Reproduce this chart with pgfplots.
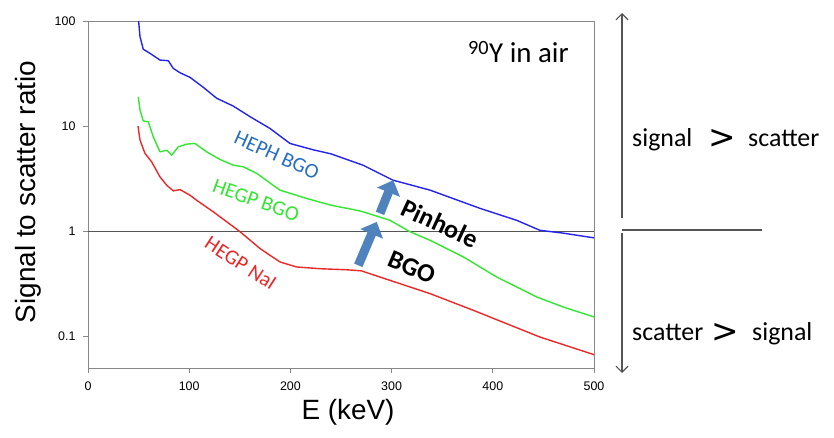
\documentclass[border=0pt]{standalone}
\usepackage{fontspec}
\setmainfont{Liberation Sans}
\newfontfamily\calib{Carlito}
\newfontfamily\dejavu{DejaVu Sans}
\usepackage{pgfplots}
\pgfplotsset{compat=1.18}
\usetikzlibrary{arrows.meta}
\definecolor{blueline}{RGB}{35,35,235}
\definecolor{greenline}{RGB}{50,230,50}
\definecolor{redline}{RGB}{235,40,40}
\definecolor{hephtext}{RGB}{40,110,190}
\definecolor{arrowfill}{RGB}{80,130,190}
\definecolor{arrowedge}{RGB}{60,100,150}
\definecolor{framegray}{RGB}{136,136,136}
\definecolor{onegray}{RGB}{85,85,85}
\begin{document}
\begin{tikzpicture}
\useasboundingbox (-88bp,-70bp) rectangle (746bp,368bp);
\begin{axis}[
  at={(0bp,0bp)}, anchor=south west,
  width=506bp, height=347bp, scale only axis,
  xmin=0, xmax=500, ymode=log, ymin=0.05, ymax=100,
  xtick={0,100,200,300,400,500},
  ytick={0.1,1,10,100}, yticklabels={0.1,1,10,100},
  yminorticks=false,
  axis line style={draw=framegray, line width=0.9pt},
  tick style={draw=framegray, line width=0.8pt},
  tick align=outside, major tick length=5bp,
  tick pos=left,
  ticklabel style={font=\fontsize{12.5}{15}\selectfont},
  x tick label style={yshift=-5bp},
  y tick label style={xshift=-4bp},
  /pgf/number format/assume math mode=true,
]
\addplot[draw=onegray, line width=1pt] coordinates {(0,1) (500,1)};
\addplot[draw=blueline, line width=1.4pt, line join=round] coordinates {
(50,100) (51.4,70.8) (54.6,53.9) (61.3,49.2) (71.1,42.5) (79.3,41.9) (84.3,35.4) (90.9,32.2) (100.8,29.1) (113.9,23.4) (127.2,18.4) (143.6,15.5) (160.1,12.3) (179.8,9.5) (199.6,6.84) (222.6,5.95) (240,5.45) (271.7,4.25) (301.4,3.06) (338,2.46) (387.4,1.65) (423.6,1.27) (446.6,1.02) (469.4,0.96) (500,0.865)};
\addplot[draw=greenline, line width=1.4pt, line join=round] coordinates {
(49.7,19.0) (51.4,14.2) (54.6,11.2) (59.6,11.0) (64.5,7.9) (71.1,5.69) (77.8,5.9) (82.7,5.29) (89.2,6.35) (97.5,6.74) (105.7,6.84) (117.3,5.69) (130.4,4.82) (143.6,4.25) (153.5,4.1) (166.7,3.55) (189.7,2.46) (216,2.05) (240,1.77) (270,1.55) (298.4,1.27) (318,0.99) (338,0.82) (370.9,0.57) (403.8,0.367) (443.4,0.237) (469.7,0.19) (500,0.153)};
\addplot[draw=redline, line width=1.4pt, line join=round] coordinates {
(49.4,10) (51.4,7.36) (56.3,5.5) (62.9,4.57) (71.1,3.29) (77.8,2.74) (84.3,2.42) (90.9,2.49) (100.8,2.2) (107.4,1.97) (123.8,1.53) (150.2,0.99) (170,0.684) (189.7,0.51) (206.2,0.457) (229.2,0.44) (255.6,0.43) (270,0.42) (298.4,0.341) (338,0.255) (380.7,0.177) (413.7,0.132) (446.6,0.0985) (500,0.067)};
\draw[line width=9bp, arrowfill, -{Triangle[width=24bp,length=13bp]}] (axis cs:288.5,1.48) -- (axis cs:301.7,3.06);
\draw[line width=9bp, arrowfill, -{Triangle[width=24bp,length=13bp]}] (axis cs:267.1,0.474) -- (axis cs:285.3,1.226);
\node[rotate=-24, inner sep=0pt, text=hephtext, font=\calib\fontsize{21}{24}\selectfont] at (axis cs:186.5,5.29) {HEPH BGO};
\node[rotate=-20, inner sep=0pt, text=greenline, font=\calib\fontsize{21}{24}\selectfont] at (axis cs:166,1.97) {HEGP BGO};
\node[rotate=-33, inner sep=0pt, text=redline, font=\calib\fontsize{21}{24}\selectfont] at (axis cs:150.9,0.496) {HEGP NaI};
\node[rotate=-25, inner sep=0pt, font=\calib\bfseries\fontsize{26}{30}\selectfont] at (axis cs:347.8,1.19) {Pinhole};
\node[rotate=-23, inner sep=0pt, font=\calib\bfseries\fontsize{26}{30}\selectfont] at (axis cs:319.9,0.454) {BGO};
\end{axis}
% axis labels
\node[rotate=90, font=\fontsize{28}{32}\selectfont] at (-60bp,176bp) {Signal to scatter ratio};
\node[font=\fontsize{28}{32}\selectfont] at (260bp,-44bp) {E (keV)};
\node[anchor=base west, inner sep=0pt, font=\calib\fontsize{29}{32}\selectfont] at (380bp,305bp) {\textsuperscript{90}Y in air};
% right-hand annotation
\draw[draw=onegray, line width=1.1pt, -{Straight Barb[length=6bp,width=12bp]}] (534bp,150bp) -- (534bp,355bp);
\draw[draw=onegray, line width=1.1pt, -{Straight Barb[length=6bp,width=12bp]}] (534bp,135bp) -- (534bp,-5bp);
\draw[draw=onegray, line width=1.1pt] (534bp,138bp) -- (674bp,138bp);
\node[anchor=base west, inner sep=0pt, font=\calib\fontsize{26}{30}\selectfont] at (544bp,221bp) {signal};
\node[anchor=base, inner sep=0pt, font=\dejavu\fontsize{33}{36}\selectfont] at (634bp,219bp) {>};
\node[anchor=base west, inner sep=0pt, font=\calib\fontsize{26}{30}\selectfont] at (660bp,221bp) {scatter};
\node[anchor=base west, inner sep=0pt, font=\calib\fontsize{26}{30}\selectfont] at (544bp,28bp) {scatter};
\node[anchor=base, inner sep=0pt, font=\dejavu\fontsize{33}{36}\selectfont] at (637bp,26bp) {>};
\node[anchor=base west, inner sep=0pt, font=\calib\fontsize{26}{30}\selectfont] at (664bp,28bp) {signal};
\end{tikzpicture}
\end{document}
